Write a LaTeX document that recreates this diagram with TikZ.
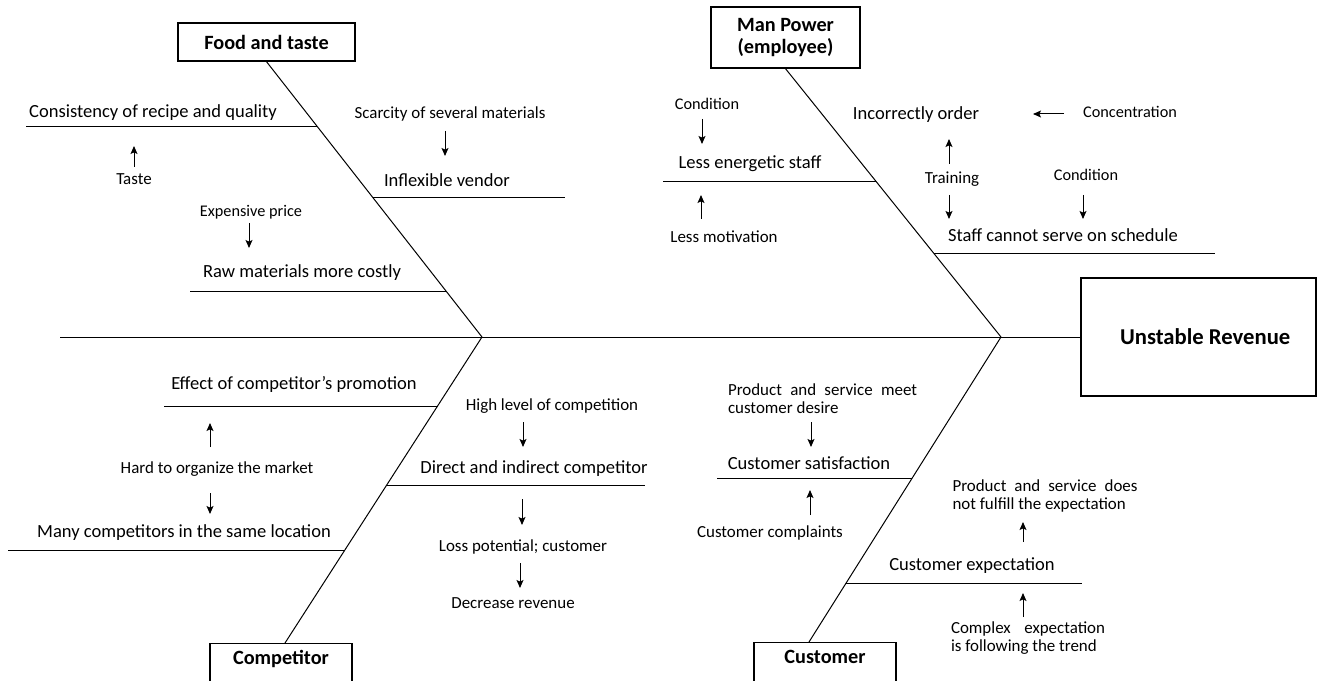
\documentclass[tikz,border=0pt]{standalone}
\usepackage{fontspec}
\setmainfont{Carlito}
\usetikzlibrary{calc,arrows.meta}

\tikzset{
  headbox/.style={draw, line width=1pt, inner sep=0pt, align=center,
    font=\fontsize{15.2}{16.5}\selectfont\bfseries},
  footbox/.style={headbox, anchor=north, minimum width=106.5pt,
    text height=15.4pt, text depth=40pt},
  effectbox/.style={draw, line width=1pt, inner sep=0pt,
    minimum width=176.25pt, minimum height=88.5pt,
    font=\fontsize{17}{19}\selectfont\bfseries},
  cause/.style={inner sep=0pt, font=\fontsize{13.9}{16}\selectfont},
  reason/.style={inner sep=0pt, font=\fontsize{12.7}{13.5}\selectfont},
  note/.style={inner sep=0pt, font=\fontsize{12.2}{13}\selectfont},
}

\begin{document}
\begin{tikzpicture}[x=0.75pt, y=-0.75pt, >={Stealth[length=6pt,width=5.2pt,inset=1.2pt]}, line width=0.75pt]
  \useasboundingbox (0,0) rectangle (1322,681);

  % Kopf und Rueckgrat
  \node[effectbox] (rev) at (1198.5,337) {\hspace*{10pt}Unstable Revenue};
  \coordinate (tail) at (60,337);
  \coordinate (j1) at (482,337);
  \coordinate (j2) at (1001,337);
  \draw (tail) -- (rev.west);

  % Hauptursachen
  \node[headbox, minimum width=132.75pt, minimum height=28.5pt] (food) at (266.5,42) {Food and taste};
  \node[headbox, minimum width=111.75pt, minimum height=45.75pt] (man) at (785.5,37.5) {Man Power\\(employee)};
  \node[footbox] (comp) at (281,643) {Competitor};
  \node[footbox] (cust) at (825,642) {Customer};
  \coordinate (c1) at ([xshift=3pt]comp.north);
  \coordinate (c2) at ([xshift=-12pt]cust.north);

  \draw (food.south) -- (j1);
  \draw (man.south) -- (j2);
  \draw (j1) -- (c1);
  \draw (j2) -- (c2);

  % Food and taste
  \draw ($(food.south)!0.2355!(j1)$) -- ++(-291,0);
  \draw ($(food.south)!0.4928!(j1)$) -- ++(192,0);
  \draw ($(food.south)!0.8333!(j1)$) -- ++(-256,0);
  \node[cause] (cons) at (153,113) {Consistency of recipe and quality};
  \node[reason] (taste) at (134,179) {Taste};
  \node[reason] (scar) at (450,114) {Scarcity of several materials};
  \node[cause] (infl) at (447,180) {Inflexible vendor};
  \node[note] (expn) at (251,212) {Expensive price};
  \node[cause] (raw) at (302,273) {Raw materials more costly};
  \draw[->] ([shift={(0,-12)}]taste.center) -- ++(0,-21);
  \draw[->] ([shift={(-5,17)}]scar.center) -- ++(0,25);
  \draw[->] ([shift={(-2,11)}]expn.center) -- ++(0,25);

  % Man Power
  \draw ($(man.south)!0.4201!(j2)$) -- ++(-213,0);
  \draw ($(man.south)!0.6877!(j2)$) -- ++(281,0);
  \node[note] (cond1) at (707,104) {Condition};
  \node[cause] (less) at (750,164) {Less energetic staff};
  \node[reason] (lmot) at (724,237) {Less motivation};
  \node[cause] (inc) at (916,115) {Incorrectly order};
  \node[note] (conc) at (1130,112) {Concentration};
  \node[reason] (train) at (952,179) {Training};
  \node[note] (cond2) at (1086,175) {Condition};
  \node[cause] (staff) at (1063,235) {Staff cannot serve on schedule};
  \draw[->] ([shift={(-5,15)}]cond1.center) -- ++(0,25);
  \draw[->] ([shift={(-23,-18)}]lmot.center) -- ++(0,-24);
  \draw[->] ([shift={(-66,2)}]conc.center) -- ++(-31,0);
  \draw[->] ([shift={(-3,-15)}]train.center) -- ++(0,-25);
  \draw[->] ([shift={(-3,16)}]train.center) -- ++(0,24);
  \draw[->] ([shift={(-3,20)}]cond2.center) -- ++(0,24);

  % Competitor
  \draw ($(j1)!0.2255!(c1)$) -- ++(-274,0);
  \draw ($(j1)!0.4837!(c1)$) -- ++(258,0);
  \draw ($(j1)!0.6993!(c1)$) -- ++(-336,0);
  \node[cause] (eff) at (294,384) {Effect of competitor’s promotion};
  \node[reason] (hard) at (217,469) {Hard to organize the market};
  \node[cause] (many) at (184,533) {Many competitors in the same location};
  \node[reason] (high) at (552,406) {High level of competition};
  \node[cause] (dir) at (534,469) {Direct and indirect competitor};
  \node[reason] (loss) at (523,547) {Loss potential; customer};
  \node[reason] (decr) at (513,603) {Decrease revenue};
  \draw[->] ([shift={(-7,-22)}]hard.center) -- ++(0,-24);
  \draw[->] ([shift={(-7,24)}]hard.center) -- ++(0,21);
  \draw[->] ([shift={(-29,16)}]high.center) -- ++(0,25);
  \draw[->] ([shift={(-12,30)}]dir.center) -- ++(0,26);
  \draw[->] ([shift={(-3,16)}]loss.center) -- ++(0,25);

  % Customer
  \draw ($(j2)!0.4623!(c2)$) -- ++(-195,0);
  \draw ($(j2)!0.8066!(c2)$) -- ++(236,0);
  \node[reason, text width=141.75pt, align=justify] (meet) at (822.5,399) {Product and service meet customer desire};
  \node[cause] (csat) at (809,463) {Customer satisfaction};
  \node[reason] (ccomp) at (770,533) {Customer complaints};
  \node[reason, text width=138.75pt, align=justify] (does) at (1045,496) {Product and service does not fulfill the expectation};
  \node[cause] (cexp) at (972,566) {Customer expectation};
  \node[reason, text width=115.5pt, align=justify] (cplx) at (1028,638) {Complex expectation is following the trend};
  \draw[->] ([shift={(-11.5,23)}]meet.center) -- ++(0,25);
  \draw[->] ([shift={(40,-18)}]ccomp.center) -- ++(0,-25);
  \draw[->] ([shift={(51,-24)}]cexp.center) -- ++(0,-20);
  \draw[->] ([shift={(-5,-21)}]cplx.center) -- ++(0,-24);
\end{tikzpicture}
\end{document}
